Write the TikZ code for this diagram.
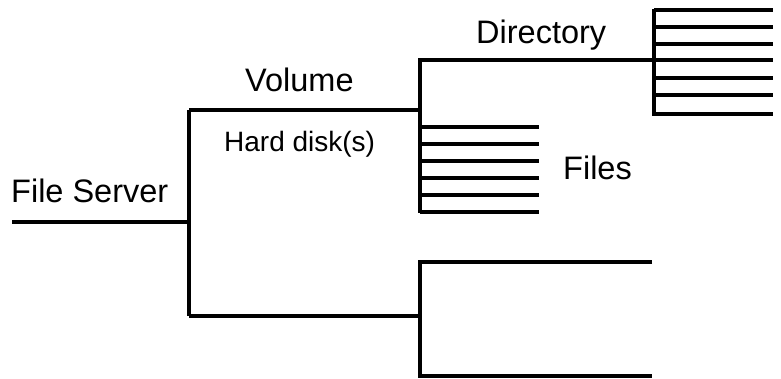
\documentclass[tikz,border=0pt]{standalone}
\usepackage{fontspec}
\setmainfont{Liberation Sans}
\begin{document}
\begin{tikzpicture}[x=1pt,y=-1pt,
  wire/.style={line width=3.8pt,line join=miter},
  lbl/.style={inner sep=0pt,anchor=base west,font=\fontsize{32.5}{33}\selectfont},
  sublbl/.style={inner sep=0pt,anchor=base west,font=\fontsize{28}{28}\selectfont}]
\useasboundingbox (0,0) rectangle (781,379);
% junction coordinates
\coordinate (fs0) at (12,222);
\coordinate (fs1) at (189,222);
\coordinate (vt) at (189,110);
\coordinate (vb) at (189,316);
\coordinate (dt) at (420,60);
\coordinate (dm) at (420,110);
\coordinate (df) at (420,213);
\coordinate (bt) at (420,262);
\coordinate (bm) at (420,316);
\coordinate (bb) at (420,376);
\coordinate (dirR) at (653,60);
\coordinate (btR) at (652,262);
\coordinate (bbR) at (652,376);
% file server to volume
\draw[wire] (fs0) -- (fs1);
\draw[wire] (vt) -- (vb);
\draw[wire] (vt) -- (dm);
\draw[wire] (vb) -- (bm);
% upper directory branch
\draw[wire] (df) -- (dt) -- (dirR);
\foreach \yy in {127,144,161,178,195,212}
  \draw[wire] (420,\yy) -- (539,\yy);
% directory block
\draw[wire] (654,9) -- (654,116);
\foreach \yy in {10,27,44,60,78,95,114}
  \draw[wire] (654,\yy) -- (773,\yy);
% lower branch
\draw[wire] (btR) -- (bt) -- (bb) -- (bbR);
% labels
\node[lbl] (fsl) at (11,203) {File Server};
\node[lbl] (vol) at (245,92) {Volume};
\node[sublbl] (hd) at (224,152) {Hard disk(s)};
\node[lbl] (dir) at (476,44) {Directory};
\node[lbl] (fil) at (563,180) {Files};
\end{tikzpicture}
\end{document}
